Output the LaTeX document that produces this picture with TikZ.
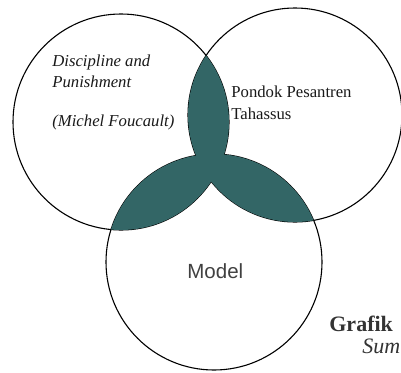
\documentclass[tikz,border=0pt]{standalone}
\usepackage{fontspec}
\setmainfont{Liberation Serif}
\newfontfamily\modelfont{Liberation Sans}
\definecolor{lensfill}{RGB}{51,102,102}
\definecolor{modelgray}{RGB}{64,64,64}
\definecolor{titlegray}{RGB}{51,51,51}
\tikzset{every picture/.style={line width=0.75pt}}
\tikzset{
  ring/.style={draw=black, line width=1.1pt},
  lens/.style={fill=lensfill},
  vtext/.style={anchor=base west, inner sep=0pt, text=black!90, font=\fontsize{16.7}{20}\selectfont},
  title/.style={anchor=base west, inner sep=0pt, text=titlegray, font=\fontsize{22}{26}\selectfont},
}

\begin{document}
\begin{tikzpicture}[x=1pt,y=1pt,yscale=-1]
\useasboundingbox (0,0) rectangle (401,372);
\clip (0,0) rectangle (401,372);

\coordinate (cA) at (121,122);
\coordinate (cB) at (295,115);
\coordinate (cC) at (214,262);

%Shape: Circle [left]
\draw [ring] (cA) circle (108pt);
%Shape: Circle [right]
\draw [ring] (cB) circle (107pt);
%Shape: Circle [bottom]
\draw [ring] (cC) circle (108pt);

%Shape: Overlaps
\begin{scope}
\clip (cA) circle (108pt);
\fill [lens] (cB) circle (107pt);
\fill [lens] (cC) circle (108pt);
\end{scope}
\begin{scope}
\clip (cB) circle (107pt);
\fill [lens] (cC) circle (108pt);
\end{scope}

% Text Node
\node [vtext] (disc) at (52,66) {\itshape Discipline and};
\node [vtext] (punish) at (52,87) {\itshape Punishment};
\node [vtext] (author) at (52,126) {\itshape (Michel Foucault)};
% Text Node
\node [vtext] (pondok) at (231,97) {Pondok Pesantren};
\node [vtext] (tahassus) at (231,119) {Tahassus};
% Text Node
\node [anchor=base west, inner sep=0pt, text=modelgray, font=\modelfont\fontsize{20.5}{24}\selectfont] (model) at (187,278) {Model};
% Text Node
\node [title] (grafik) at (329,331) {\bfseries Grafik};
\node [title] (sumber) at (362,353) {\itshape Sum};

\end{tikzpicture}
\end{document}
